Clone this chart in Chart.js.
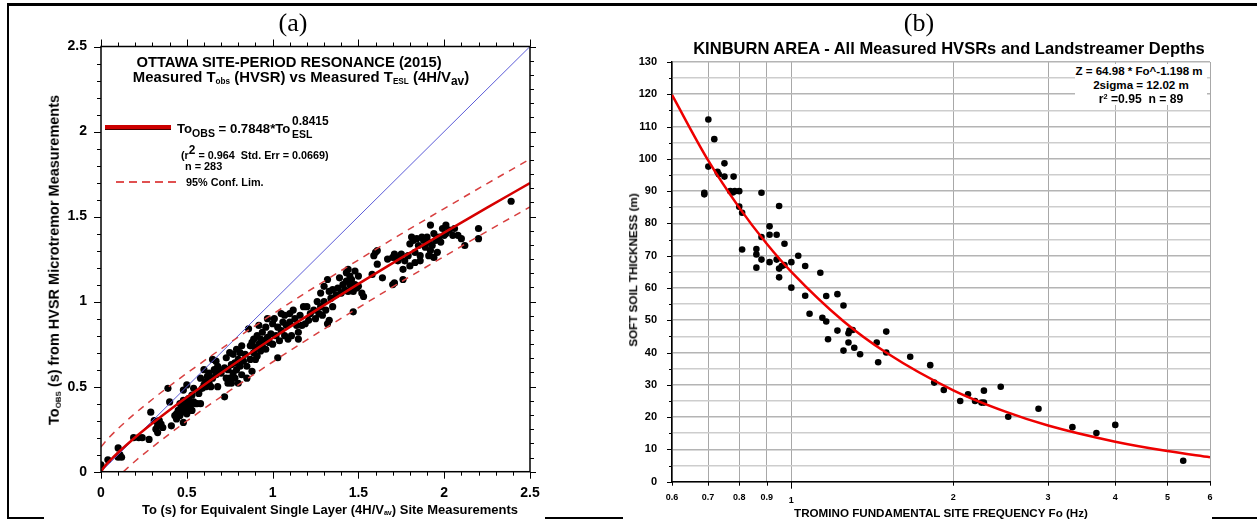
<!DOCTYPE html>
<html>
<head>
<meta charset="utf-8">
<script src="https://cdn.jsdelivr.net/npm/chart.js@4.4.1/dist/chart.umd.min.js"></script>
<style>
  body { margin: 0; background: #fff; font-family: 'Liberation Sans', Arial, sans-serif; }
  #page { position: relative; width: 1257px; height: 521px; overflow: hidden; }
  canvas { position: absolute; top: 0; }
  .t { position: absolute; white-space: nowrap; font-weight: bold; color: #000; line-height: 1; }
  .c { transform: translate(-50%, -50%); }
  .l { transform: translateY(-50%); }
  .rot { transform: translate(-50%, -50%) rotate(-90deg); }
  .serif { font-family: 'Liberation Serif', 'Times New Roman', serif; font-weight: normal; }
  sub, sup { line-height: 0; }
  .s1 { font-size: 0.55em; vertical-align: -0.25em; }
  .s2 { font-size: 0.8em; vertical-align: -0.3em; }
  .bar { position: absolute; background: #000; }
</style>
</head>
<body>
<div id="page">
  <!-- table borders -->
  <div class="bar" style="left:7px;top:3px;width:1250px;height:3px"></div>
  <div class="bar" style="left:7px;top:3px;width:2px;height:516px"></div>
  <div class="bar" style="left:7px;top:517px;width:37px;height:2px"></div>
  <div class="bar" style="left:545px;top:517px;width:78px;height:2px"></div>
  <div class="bar" style="left:1212px;top:517px;width:45px;height:2px"></div>

  <canvas id="chartA" width="628" height="521" style="left:0"></canvas>
  <canvas id="chartB" width="629" height="521" style="left:628px"></canvas>

  <!-- panel (a) text -->
  <div class="t c serif" style="left:293px;top:23px;font-size:26px">(a)</div>
  <div class="t c fit" data-w="305" style="left:289px;top:62px;font-size:14px">OTTAWA SITE-PERIOD RESONANCE (2015)</div>
  <div class="t c fit" data-w="337" style="left:301px;top:77px;font-size:14px">Measured T<sub class="s1">obs</sub> (HVSR) vs Measured T<sub class="s1">ESL</sub> (4H/V<sub class="s2">av</sub>)</div>
  <div style="position:absolute;left:105px;top:125px;width:66px;height:4px;background:#cc0000;border-bottom:1px solid #400"></div>
  <div class="t l fit" data-w="113" style="left:177px;top:129px;font-size:12px">To<sub class="s2">OBS</sub> = 0.7848*To</div>
  <div class="t l fit" data-w="37" style="left:292px;top:122px;font-size:11px">0.8415</div>
  <div class="t l fit" data-w="20" style="left:292px;top:135px;font-size:11px">ESL</div>
  <div class="t l fit" data-w="148" style="left:181px;top:155px;font-size:10px">(r<sup style="font-size:1.1em">2</sup> = 0.964&nbsp; Std. Err = 0.0669)</div>
  <div class="t l fit" data-w="37" style="left:185px;top:166px;font-size:10px">n = 283</div>
  <div style="position:absolute;left:116px;top:181px;width:60px;height:2px;background:repeating-linear-gradient(90deg,#e05050 0 8px,transparent 8px 13px)"></div>
  <div class="t l fit" data-w="78" style="left:186px;top:182px;font-size:10px">95% Conf. Lim.</div>
  <div class="t rot fit" data-w="330" style="left:54px;top:260px;font-size:13px">To<sub class="s1">OBS</sub> (s) from HVSR Microtremor Measurements</div>
  <div class="t c fit" data-w="376" style="left:330px;top:510px;font-size:12px">To (s) for Equivalent Single Layer (4H/V<sub class="s1">av</sub>) Site Measurements</div>

  <!-- panel (b) text -->
  <div class="t c serif" style="left:919px;top:23px;font-size:26px">(b)</div>
  <div class="t c fit" data-w="512" style="left:949px;top:49px;font-size:14px">KINBURN AREA - All Measured HVSRs and Landstreamer Depths</div>
  <div style="position:absolute;left:1075px;top:64px;width:132px;height:41px;background:#fff"></div>
  <div class="t c fit" data-w="127" style="left:1139px;top:72px;font-size:11px">Z = 64.98 * Fo^-1.198 m</div>
  <div class="t c fit" data-w="96" style="left:1141px;top:85px;font-size:11px">2sigma = 12.02 m</div>
  <div class="t c fit" data-w="84" style="left:1141px;top:99px;font-size:11px">r<sup style="font-size:0.6em;vertical-align:0.5em">2</sup> =0.95&nbsp; n = 89</div>
  <div class="t rot fit" data-w="154" style="left:633px;top:270px;font-size:10px">SOFT SOIL THICKNESS (m)</div>
  <div class="t c fit" data-w="294" style="left:941px;top:513px;font-size:11px">TROMINO FUNDAMENTAL SITE FREQUENCY Fo (Hz)</div>
</div>

<script>
// ---------- panel (a): Ottawa site period data ----------
// [To ESL (s), To OBS (s)]
const periodPairs = [
  [0.00,0.04],[0.04,0.07],[0.10,0.14],[0.10,0.085],[0.12,0.085],[0.11,0.10],
  [0.19,0.20],[0.22,0.20],[0.24,0.20],[0.28,0.19],
  [0.29,0.35],[0.31,0.30],[0.32,0.25],[0.33,0.23],[0.33,0.27],[0.35,0.28],[0.36,0.26],[0.34,0.30],
  [0.39,0.49],[0.40,0.41],[0.41,0.27],[0.43,0.33],[0.44,0.34],[0.44,0.31],[0.45,0.36],[0.46,0.33],[0.46,0.40],
  [0.47,0.35],[0.47,0.38],[0.48,0.29],[0.48,0.42],[0.48,0.48],
  [0.49,0.36],[0.49,0.39],[0.50,0.51],[0.50,0.41],[0.50,0.34],[0.51,0.37],[0.51,0.43],[0.52,0.38],[0.52,0.40],
  [0.53,0.36],[0.53,0.45],[0.54,0.49],[0.54,0.41],[0.55,0.40],[0.56,0.40],[0.57,0.46],[0.58,0.40],[0.58,0.55],
  [0.59,0.49],[0.60,0.51],[0.60,0.60],[0.61,0.50],[0.61,0.53],[0.62,0.56],[0.63,0.52],[0.63,0.58],[0.64,0.50],
  [0.65,0.66],[0.65,0.55],[0.66,0.60],[0.67,0.65],[0.67,0.57],[0.68,0.62],[0.68,0.50],[0.69,0.59],[0.70,0.58],
  [0.72,0.44],[0.72,0.61],[0.73,0.55],[0.73,0.67],[0.74,0.52],[0.74,0.60],[0.75,0.70],[0.75,0.55],[0.76,0.63],
  [0.76,0.52],[0.77,0.58],[0.77,0.69],[0.78,0.55],[0.78,0.64],[0.79,0.60],[0.79,0.72],[0.80,0.52],[0.80,0.66],
  [0.81,0.62],[0.81,0.70],[0.82,0.57],[0.82,0.74],[0.83,0.65],[0.84,0.69],[0.85,0.55],[0.85,0.62],
  [0.86,0.84],[0.87,0.74],[0.87,0.66],[0.88,0.59],[0.88,0.76],[0.89,0.70],[0.89,0.78],[0.90,0.66],[0.90,0.73],
  [0.91,0.80],[0.91,0.68],[0.92,0.75],[0.92,0.86],[0.93,0.71],[0.93,0.78],[0.94,0.74],[0.94,0.82],[0.95,0.77],
  [0.96,0.85],[0.96,0.72],[0.97,0.79],[0.97,0.90],[0.98,0.76],[0.99,0.81],
  [1.00,0.87],[1.00,0.75],[1.01,0.90],[1.02,0.80],[1.03,0.67],[1.03,0.85],[1.04,0.77],[1.05,0.93],[1.05,0.83],
  [1.06,0.88],[1.07,0.80],[1.07,0.92],[1.08,0.86],[1.09,0.78],[1.10,0.93],[1.10,0.88],[1.11,0.80],[1.12,0.95],
  [1.13,0.90],[1.14,0.86],
  [1.15,0.78],[1.15,0.82],[1.16,0.92],[1.17,0.86],[1.18,0.97],[1.19,0.87],[1.20,0.97],[1.21,0.89],[1.22,0.93],
  [1.24,0.95],[1.25,0.90],[1.26,1.00],[1.27,0.93],[1.28,1.05],[1.28,0.97],[1.29,0.92],[1.30,1.09],[1.30,1.00],
  [1.31,0.95],[1.32,1.13],[1.32,0.87],[1.33,0.89],[1.33,1.06],[1.34,1.02],[1.35,1.07],[1.35,0.97],
  [1.37,1.04],[1.38,1.08],[1.39,1.14],[1.40,1.05],[1.41,1.10],[1.42,1.07],[1.43,1.17],[1.43,1.12],[1.44,1.19],
  [1.44,1.06],[1.45,1.15],[1.45,1.10],[1.46,1.08],[1.46,1.13],[1.47,0.94],[1.47,1.06],[1.48,1.18],[1.48,1.10],
  [1.49,1.08],[1.50,1.09],[1.50,1.15],[1.52,1.05],[1.53,1.03],
  [1.58,1.16],[1.59,1.27],[1.60,1.29],[1.61,1.30],[1.61,1.22],[1.64,1.14],[1.67,1.25],[1.70,1.26],[1.70,1.10],
  [1.71,1.11],[1.71,1.28],[1.72,1.26],[1.73,1.24],[1.74,1.26],[1.75,1.28],[1.76,1.19],[1.76,1.13],[1.77,1.24],
  [1.79,1.27],[1.80,1.34],[1.80,1.21],[1.81,1.38],[1.82,1.36],[1.83,1.29],[1.83,1.23],[1.84,1.37],[1.85,1.33],
  [1.86,1.27],[1.86,1.24],[1.87,1.38],[1.88,1.36],[1.89,1.32],[1.90,1.38],[1.91,1.27],[1.91,1.35],[1.92,1.45],
  [1.92,1.30],[1.93,1.33],[1.94,1.40],[1.94,1.26],[1.95,1.36],[1.96,1.29],[1.97,1.38],[1.98,1.35],[1.99,1.43],
  [2.00,1.39],[2.01,1.45],[2.01,1.40],[2.03,1.42],[2.05,1.39],[2.06,1.43],[2.08,1.39],[2.10,1.37],[2.12,1.33],
  [2.20,1.43],[2.20,1.37],[2.39,1.59]
];
const lineOneX = [0, 2.5];
const lineOneY = [0, 2.5];
// ToOBS = 0.7848*ToESL^0.8415 as drawn
const fitX = [0, 0.02, 0.05, 0.1, 0.2, 0.3, 0.4, 0.5, 0.75, 1, 1.25, 1.5, 1.75, 2, 2.25, 2.5];
const fitY = [0, 0.029, 0.063, 0.113, 0.203, 0.285, 0.363, 0.438, 0.616, 0.785, 0.947, 1.104, 1.257, 1.406, 1.553, 1.697];
const confUpY = [0.145, 0.17, 0.204, 0.254, 0.344, 0.426, 0.504, 0.579, 0.757, 0.926, 1.088, 1.245, 1.398, 1.547, 1.694, 1.838];
const confLowX = [0.13, 0.2, 0.3, 0.4, 0.5, 0.75, 1, 1.25, 1.5, 1.75, 2, 2.25, 2.5];
const confLowY = [0, 0.063, 0.145, 0.223, 0.298, 0.476, 0.645, 0.807, 0.964, 1.117, 1.266, 1.413, 1.557];
const tickValsA = [0, 0.5, 1, 1.5, 2, 2.5];
const tickLabelsA = ['0', '0.5', '1', '1.5', '2', '2.5'];

// ---------- panel (b): Kinburn data ----------
const foHz = [0.701,0.719,0.701,0.729,0.733,0.751,0.751,0.781,0.689,0.689,0.770,0.778,0.785,0.800,0.800,0.810,
  0.880,0.949,0.911,0.911,0.939,0.880,0.971,0.810,0.861,0.861,0.861,0.880,0.911,0.939,0.949,0.960,0.971,0.949,
  1.000,1.030,1.061,1.000,1.132,1.061,1.081,1.142,1.161,1.161,1.170,1.218,1.250,1.218,1.250,1.277,1.277,1.282,
  1.300,1.309,1.342,1.441,1.450,1.501,1.501,1.663,1.812,1.843,1.920,2.060,2.130,2.195,2.256,2.280,2.280,2.450,
  2.530,2.880,3.330,3.690,4.000,5.350];
const depthM = [112.2,106.1,97.6,96.0,95.2,98.6,94.5,94.5,89.5,89.0,90.0,89.6,90.0,90.0,85.2,83.3,
  89.5,85.4,79.1,76.5,76.5,75.8,73.7,71.9,72.1,70.4,66.3,68.8,68.0,68.8,66.0,66.8,67.1,63.3,
  68.0,70.0,66.8,60.1,64.7,57.6,52.0,50.8,49.6,57.5,44.1,58.1,54.6,46.8,40.6,43.1,46.0,46.8,
  47.0,41.5,39.5,43.1,37.0,46.5,40.0,38.7,36.1,30.7,28.4,25.0,27.1,25.0,24.5,24.5,28.2,29.4,
  20.1,22.6,16.9,15.1,17.6,6.5];
// Z = 64.98 * Fo^-1.198 as drawn
const curveFo = [0.6, 0.7, 0.8, 0.9, 1, 1.25, 1.5, 2, 2.5, 3, 4, 5, 6];
const curveZ = [119.8, 99.6, 84.9, 73.7, 65.0, 49.7, 40.0, 28.3, 21.7, 17.4, 12.4, 9.5, 7.6];
const foTicks = [0.6, 0.7, 0.8, 0.9, 1, 2, 3, 4, 5, 6];
const foTickLabels = ['0.6', '0.7', '0.8', '0.9', '1', '2', '3', '4', '5', '6'];

const pts = (xs, ys) => xs.map((x, i) => ({ x: x, y: ys[i] }));

// fit overlay text widths to the reference
document.querySelectorAll('.fit').forEach((el) => {
  const size = parseFloat(el.style.fontSize);
  el.style.fontSize = (size * Number(el.dataset.w) / el.offsetWidth).toFixed(2) + 'px';
});

Chart.defaults.font.family = "'Liberation Sans', Arial, sans-serif";
Chart.defaults.color = '#000';
Chart.defaults.animation = false;

// outward tick marks (and optional frame) drawn round the plot area
const makeTicks = (marks, box) => ({
  id: 'ticks',
  afterDraw(chart) {
    const { ctx, chartArea: a, scales } = chart;
    ctx.save();
    ctx.strokeStyle = '#000';
    ctx.lineWidth = 1;
    ctx.beginPath();
    marks.forEach((m) => {
      const sc = scales[m.axis];
      m.values.forEach((v, i) => {
        const p = Math.round(sc.getPixelForValue(v)) + 0.5;
        const len = m.isMajor(v, i) ? m.major : m.minor;
        m.sides.forEach((side) => {
          if (side === 'bottom') { ctx.moveTo(p, a.bottom); ctx.lineTo(p, a.bottom + len); }
          if (side === 'top') { ctx.moveTo(p, a.top); ctx.lineTo(p, a.top - len); }
          if (side === 'left') { ctx.moveTo(a.left, p); ctx.lineTo(a.left - len, p); }
          if (side === 'right') { ctx.moveTo(a.right, p); ctx.lineTo(a.right + len, p); }
        });
      });
    });
    ctx.stroke();
    if (box) {
      ctx.lineWidth = 1.5;
      ctx.strokeRect(a.left, a.top, a.right - a.left, a.bottom - a.top);
    }
    ctx.restore();
  }
});

const tenths = [];
for (let i = 0; i <= 25; i++) tenths.push(i / 10);
const twelfths = [];
for (let i = 0; i <= 30; i++) twelfths.push(i * 2.5 / 30);
const fives = [];
for (let i = 0; i <= 26; i++) fives.push(i * 5);

const ticksA = makeTicks([
  { axis: 'x', values: tenths, sides: ['bottom', 'top'], major: 7, minor: 4, isMajor: (v, i) => i % 5 === 0 },
  { axis: 'y', values: tenths, sides: ['left'], major: 7, minor: 4, isMajor: (v, i) => i % 5 === 0 },
  { axis: 'y', values: twelfths, sides: ['right'], major: 6, minor: 4, isMajor: (v, i) => i % 6 === 0 }
], true);

const ticksB = makeTicks([
  { axis: 'x', values: foTicks, sides: ['bottom'], major: 7, minor: 4, isMajor: (v) => v === 1 },
  { axis: 'y', values: fives, sides: ['left'], major: 5, minor: 3, isMajor: (v, i) => i % 2 === 0 }
], false);

// panel (a)
new Chart(document.getElementById('chartA'), {
  type: 'scatter',
  data: {
    datasets: [
      {
        data: periodPairs.map((p) => ({ x: p[0], y: p[1] })),
        pointRadius: 3.6, backgroundColor: '#000', borderWidth: 0, order: 5
      },
      {
        data: pts(lineOneX, lineOneY), showLine: true, pointRadius: 0,
        borderColor: '#5c5cd8', borderWidth: 1, order: 3
      },
      {
        data: pts(fitX, confUpY), showLine: true, pointRadius: 0, cubicInterpolationMode: 'monotone',
        borderColor: '#d84040', borderWidth: 1.5, borderDash: [7, 6], order: 2
      },
      {
        data: pts(confLowX, confLowY), showLine: true, pointRadius: 0, cubicInterpolationMode: 'monotone',
        borderColor: '#d84040', borderWidth: 1.5, borderDash: [7, 6], order: 2
      },
      {
        data: pts(fitX, fitY), showLine: true, pointRadius: 0, cubicInterpolationMode: 'monotone',
        borderColor: '#d60000', borderWidth: 2.5, order: 1
      }
    ]
  },
  options: {
    responsive: false,
    devicePixelRatio: 1,
    layout: { padding: { left: 0, top: 46.5, right: 98, bottom: 0 } },
    plugins: { legend: { display: false }, tooltip: { enabled: false } },
    scales: {
      x: {
        type: 'linear', min: 0, max: 2.5,
        afterBuildTicks: (s) => { s.ticks = tickValsA.map((v) => ({ value: v })); },
        afterFit: (s) => { s.height = 49.3; },
        ticks: {
          callback: (v, i) => tickLabelsA[i], font: { size: 14, weight: 'bold' },
          padding: 13, maxRotation: 0, autoSkip: false
        },
        grid: { display: false, drawTicks: false },
        border: { display: false }
      },
      y: {
        type: 'linear', min: 0, max: 2.5,
        afterBuildTicks: (s) => { s.ticks = tickValsA.map((v) => ({ value: v })); },
        afterFit: (s) => { s.width = 101; },
        ticks: {
          callback: (v, i) => tickLabelsA[i], font: { size: 14, weight: 'bold' },
          padding: 14, autoSkip: false
        },
        grid: { display: false, drawTicks: false },
        border: { display: false }
      }
    }
  },
  plugins: [ticksA]
});

// panel (b)
new Chart(document.getElementById('chartB'), {
  type: 'scatter',
  data: {
    datasets: [
      {
        data: pts(foHz, depthM), pointRadius: 3.3, backgroundColor: '#000', borderWidth: 0, order: 2
      },
      {
        data: pts(curveFo, curveZ), showLine: true, pointRadius: 0, cubicInterpolationMode: 'monotone',
        borderColor: '#ee0000', borderWidth: 2.5, order: 1
      }
    ]
  },
  options: {
    responsive: false,
    devicePixelRatio: 1,
    layout: { padding: { left: 0, top: 62, right: 47, bottom: 0 } },
    plugins: { legend: { display: false }, tooltip: { enabled: false } },
    scales: {
      x: {
        type: 'logarithmic', min: 0.6, max: 6,
        afterBuildTicks: (s) => { s.ticks = foTicks.map((v) => ({ value: v })); },
        afterFit: (s) => { s.height = 39.3; },
        ticks: {
          callback: (v, i) => foTickLabels[i],
          font: (c) => ({ size: 9, weight: 'bold', lineHeight: c.tick && c.tick.value === 1 ? 2 : 1.2 }),
          padding: 10, maxRotation: 0, minRotation: 0, autoSkip: false
        },
        grid: { color: '#a8a8a8', lineWidth: 1, drawTicks: false },
        border: { display: true, color: '#000', width: 1.5 }
      },
      y: {
        type: 'linear', min: 0, max: 130,
        afterFit: (s) => { s.width = 44; },
        ticks: {
          stepSize: 5, callback: (v) => (v % 10 === 0 ? String(v) : ''),
          font: { size: 11, weight: 'bold' }, padding: 15, autoSkip: false
        },
        grid: {
          color: (c) => (c.tick && c.tick.value % 10 === 0 ? '#b4b4b4' : '#cdcdcd'),
          lineWidth: 1.6, drawTicks: false
        },
        border: { display: true, color: '#000', width: 1.5 }
      }
    }
  },
  plugins: [ticksB]
});
</script>
</body>
</html>
